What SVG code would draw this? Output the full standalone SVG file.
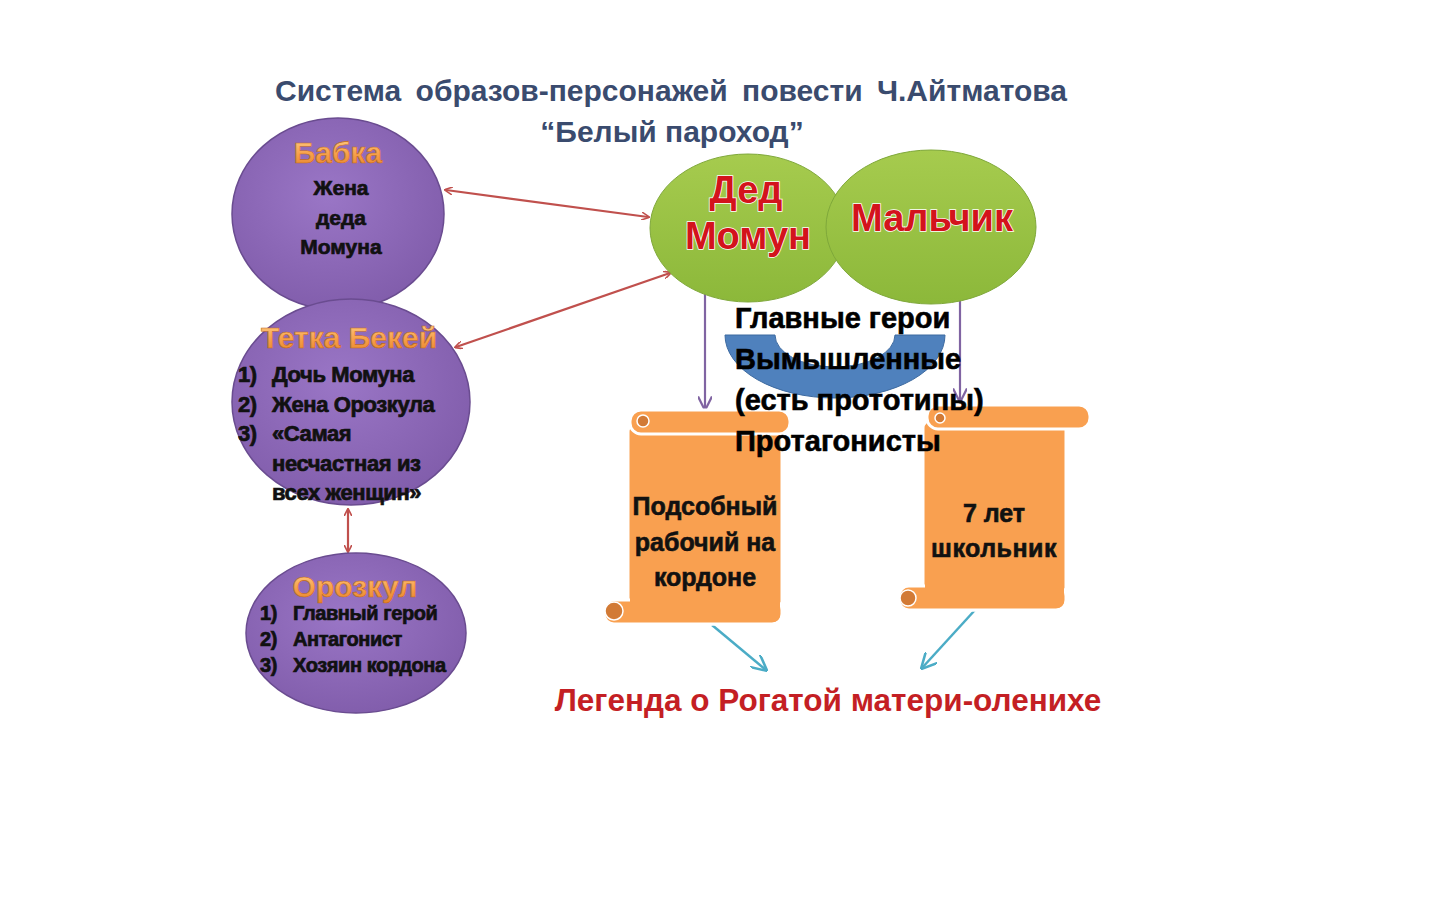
<svg xmlns="http://www.w3.org/2000/svg" width="1440" height="900" viewBox="0 0 1440 900">
<defs>
<marker id="ar" viewBox="0 0 10 10" refX="8" refY="5" markerWidth="8" markerHeight="8" orient="auto-start-reverse" markerUnits="userSpaceOnUse"><path d="M0,0 L10,5 L0,10" fill="none" stroke="#c0504d" stroke-width="2"/></marker>
<marker id="ap" viewBox="0 0 10 10" refX="9" refY="5" markerWidth="14" markerHeight="14" orient="auto" markerUnits="userSpaceOnUse"><path d="M0,0 L10,5 L0,10" fill="none" stroke="#8064a2" stroke-width="1.6"/></marker>
<marker id="ab" viewBox="0 0 10 10" refX="9" refY="5" markerWidth="16" markerHeight="16" orient="auto" markerUnits="userSpaceOnUse"><path d="M0,0 L10,5 L0,10" fill="none" stroke="#4bacc6" stroke-width="1.6"/></marker>
<radialGradient id="gp" cx="0.45" cy="0.4" r="0.7"><stop offset="0" stop-color="#9a76c6"/><stop offset="1" stop-color="#7e5aa8"/></radialGradient>
<linearGradient id="gg" x1="0" y1="0" x2="0" y2="1"><stop offset="0" stop-color="#a6cb4e"/><stop offset="1" stop-color="#8cb83a"/></linearGradient>
<linearGradient id="go" x1="0" y1="0" x2="0" y2="1"><stop offset="0" stop-color="#ffd08a"/><stop offset="0.55" stop-color="#f7a04a"/><stop offset="1" stop-color="#e5822a"/></linearGradient>
</defs>
<style>
.pur{fill:url(#gp);stroke:#6a4c90;stroke-width:1.5}
.grn{fill:url(#gg);stroke:#7fa83a;stroke-width:1}
.scr{fill:#f9a050;stroke:#ffffff;stroke-width:3}
.scf{fill:#f9a050;stroke:none}
.curl{fill:#d27a35;stroke:#fff;stroke-width:1.5}
.t{font-family:"Liberation Sans",Arial,sans-serif;font-weight:bold}
.ttl{fill:#3a4b6e;font-size:30px}
.hd{fill:url(#go);stroke:#c06a1e;stroke-width:0.6;font-size:30px;text-anchor:middle}
.bk{fill:#111;stroke:#111;stroke-width:0.7;font-size:22px}
.red{fill:#d3131c;stroke:#ffffff;stroke-width:1.5;paint-order:stroke;font-size:38px;text-anchor:middle}
.big{fill:#000;stroke:#000;stroke-width:0.6;font-size:29px}
.sc{fill:#111;stroke:#111;stroke-width:0.6;font-size:25px;text-anchor:middle}
.leg{fill:#c41f24;font-size:31.5px;text-anchor:middle}
.lr{stroke:#c0504d;stroke-width:2.2;fill:none}
.lp{stroke:#8064a2;stroke-width:2.2;fill:none}
.lb{stroke:#4bacc6;stroke-width:2.5;fill:none}
</style>

<g id="title">
<text class="t ttl" x="671" y="101" text-anchor="middle" word-spacing="6">Система образов-персонажей повести Ч.Айтматова</text>
<text class="t ttl" x="672" y="142" text-anchor="middle">“Белый пароход”</text>
</g>

<g id="arc">
<path d="M725,335 A110,63 0 0 0 945,335 L895,335 A60,32 0 0 1 775,335 Z" fill="#4f81bd" stroke="#3d6aa0" stroke-width="1"/>
</g>

<g id="connectors">
<line class="lr" x1="446" y1="190" x2="648" y2="217" marker-start="url(#ar)" marker-end="url(#ar)"/>
<line class="lr" x1="456" y1="347" x2="670" y2="273" marker-start="url(#ar)" marker-end="url(#ar)"/>
<line class="lr" x1="348" y1="510" x2="348" y2="551" marker-start="url(#ar)" marker-end="url(#ar)"/>
<line class="lp" x1="705" y1="294" x2="705" y2="409" marker-end="url(#ap)"/>
<line class="lp" x1="960" y1="300" x2="960" y2="401" marker-end="url(#ap)"/>
<line class="lb" x1="712" y1="625" x2="766" y2="670" marker-end="url(#ab)"/>
<line class="lb" x1="975" y1="610" x2="922" y2="668" marker-end="url(#ab)"/>
</g>

<g id="babka">
<ellipse class="pur" cx="338" cy="214" rx="106" ry="96"/>
<text class="t hd" x="338" y="163">Бабка</text>
<text class="t bk" x="341" y="195" text-anchor="middle" style="font-size:21px">Жена</text>
<text class="t bk" x="341" y="225" text-anchor="middle" style="font-size:21px">деда</text>
<text class="t bk" x="341" y="254" text-anchor="middle" style="font-size:21px">Момуна</text>
</g>

<g id="tetka">
<ellipse class="pur" cx="351" cy="402" rx="119" ry="103"/>
<text class="t hd" x="349" y="348">Тетка Бекей</text>
<g class="t bk" letter-spacing="-0.4">
<text x="238" y="382">1)</text><text x="272" y="382">Дочь Момуна</text>
<text x="238" y="412">2)</text><text x="272" y="412">Жена Орозкула</text>
<text x="238" y="441">3)</text><text x="272" y="441">«Самая</text>
<text x="272" y="471">несчастная из</text>
<text x="272" y="500">всех женщин»</text>
</g>
</g>

<g id="orozkul">
<ellipse class="pur" cx="356" cy="633" rx="110" ry="80"/>
<text class="t hd" x="355" y="597">Орозкул</text>
<g class="t bk" style="font-size:20px" letter-spacing="-0.4">
<text x="260" y="620">1)</text><text x="293" y="620">Главный герой</text>
<text x="260" y="646">2)</text><text x="293" y="646">Антагонист</text>
<text x="260" y="672">3)</text><text x="293" y="672">Хозяин кордона</text>
</g>
</g>

<g id="ded">
<ellipse class="grn" cx="748" cy="228" rx="98" ry="74"/>
<text class="t red" x="746" y="203">Дед</text>
<text class="t red" x="748" y="249">Момун</text>
</g>

<g id="malchik">
<ellipse class="grn" cx="931" cy="227" rx="105" ry="77"/>
<text class="t red" x="932" y="231">Мальчик</text>
</g>

<g id="scroll1">
<rect class="scr" x="628" y="424" width="154" height="200" rx="8"/>
<rect class="scr" x="604" y="600" width="178" height="24" rx="10"/>
<rect class="scf" x="630" y="426" width="150" height="196" rx="7"/>
<rect class="scf" x="606" y="602" width="174" height="20" rx="9"/>
<rect class="scr" x="630" y="410" width="160" height="24" rx="11"/>
<circle class="curl" cx="643" cy="421" r="6"/>
<circle class="curl" cx="614" cy="611" r="9"/>
<text class="t sc" x="705" y="515">Подсобный</text>
<text class="t sc" x="705" y="551">рабочий на</text>
<text class="t sc" x="705" y="586">кордоне</text>
</g>

<g id="scroll2">
<rect class="scr" x="923" y="420" width="143" height="190" rx="8"/>
<rect class="scr" x="899" y="586" width="167" height="24" rx="10"/>
<rect class="scf" x="925" y="422" width="139" height="186" rx="7"/>
<rect class="scf" x="901" y="588" width="163" height="20" rx="9"/>
<rect class="scr" x="927" y="405" width="163" height="24" rx="11"/>
<circle class="curl" cx="940" cy="418" r="5"/>
<circle class="curl" cx="908" cy="598" r="8"/>
<text class="t sc" x="994" y="522">7 лет</text>
<text class="t sc" x="994" y="557" letter-spacing="0.5">школьник</text>
</g>

<g id="heroes">
<text class="t big" x="735" y="328">Главные герои</text>
<text class="t big" x="735" y="369">Вымышленные</text>
<text class="t big" x="735" y="410">(есть прототипы)</text>
<text class="t big" x="735" y="451">Протагонисты</text>
</g>

<g id="legend">
<text class="t leg" x="828" y="711">Легенда о Рогатой матери-оленихе</text>
</g>
</svg>
